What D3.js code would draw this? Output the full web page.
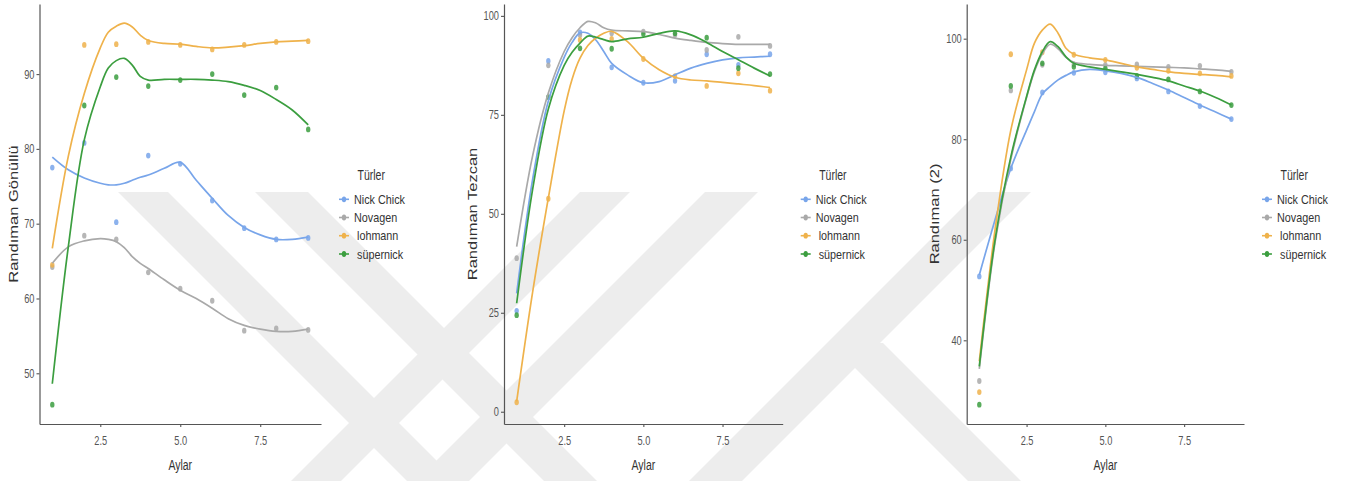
<!DOCTYPE html>
<html>
<head>
<meta charset="utf-8">
<script src="https://cdn.jsdelivr.net/npm/d3@7"></script>
<style>
  body { margin: 0; background: #fff; }
  svg { display: block; font-family: "Liberation Sans", Arial, sans-serif; }
</style>
</head>
<body>
<svg id="chart" width="1354" height="481"></svg>
<script>
// ---- data ----
const months = [1, 2, 3, 4, 5, 6, 7, 8, 9];
const fitMonths = [1, 1.5, 2, 2.5, 2.75, 3, 3.25, 3.5, 3.75, 4, 4.5, 5, 5.5, 6, 6.5, 7, 7.5, 8, 8.5, 9];
const breeds = ["Nick Chick", "Novagen", "lohmann", "süpernick"];
const legendLabels = ["Nick Chick", "Novagen", "\u00a0lohmann", "\u00a0süpernick"];
const xTicks = [2.5, 5.0, 7.5];
const yTicksGonullu = [50, 60, 70, 80, 90];
const yTicksTezcan = [0, 25, 50, 75, 100];
const yTicksRandiman2 = [40, 60, 80, 100];

// Randıman Gönüllü
const gonulluNick = [77.5, 80.8, 70.2, 79.1, 78.0, 73.1, 69.4, 67.9, 68.1];
const gonulluNovagen = [64.2, 68.4, 67.9, 63.5, 61.3, 59.7, 55.7, 56.0, 55.8];
const gonulluLohmann = [64.5, 93.9, 94.0, 94.3, 93.9, 93.3, 93.9, 94.3, 94.4];
const gonulluSupernick = [45.8, 85.8, 89.6, 88.4, 89.2, 90.0, 87.2, 88.2, 82.6];
const gonulluNickFit = [78.9, 77.2, 76.1, 75.4, 75.2, 75.2, 75.4, 75.8, 76.2, 76.5, 77.4, 78.2, 75.8, 73.4, 71.1, 69.5, 68.5, 67.9, 67.9, 68.2];
const gonulluNovagenFit = [64.7, 66.9, 67.7, 68.0, 67.9, 67.6, 66.8, 65.6, 64.7, 64.0, 62.5, 61.1, 60.0, 58.7, 57.3, 56.4, 55.9, 55.6, 55.6, 55.9];
const gonulluLohmannFit = [66.7, 79.0, 87.4, 93.5, 95.6, 96.4, 96.8, 96.3, 95.2, 94.5, 94.1, 94.0, 93.7, 93.5, 93.6, 93.8, 94.1, 94.3, 94.4, 94.5];
const gonulluSupernickFit = [48.6, 66.9, 81.2, 88.3, 90.8, 91.8, 92.1, 91.2, 89.7, 89.2, 89.3, 89.3, 89.3, 89.2, 89.0, 88.5, 87.8, 86.6, 85.2, 83.2];

// Randıman Tezcan
const tezcanNick = [25.5, 88.6, 95.8, 87.0, 83.1, 83.6, 90.3, 87.6, 90.3];
const tezcanNovagen = [38.8, 87.5, 95.2, 95.6, 96.0, 95.2, 91.4, 94.7, 92.4];
const tezcanLohmann = [2.4, 53.8, 93.9, 94.2, 89.1, 84.8, 82.3, 85.5, 81.1];
const tezcanSupernick = [24.4, 79.5, 91.8, 91.7, 95.4, 95.6, 94.5, 86.8, 85.3];
const tezcanNickFit = [29.9, 58.5, 78.5, 89.5, 93.3, 95.7, 95.6, 93.9, 91.0, 88.0, 85.1, 83.1, 83.4, 85.1, 86.8, 88.0, 88.9, 89.4, 89.6, 89.8];
const tezcanNovagenFit = [41.7, 64.5, 80.5, 91.0, 94.5, 97.0, 98.6, 98.2, 97.0, 96.4, 96.2, 96.0, 95.3, 94.4, 93.8, 93.3, 93.0, 92.8, 92.8, 92.8];
const tezcanLohmannFit = [2.6, 30.0, 54.0, 76.0, 84.0, 89.3, 92.5, 94.4, 95.6, 96.1, 93.5, 89.3, 86.4, 84.5, 83.8, 83.6, 83.2, 82.8, 82.4, 81.9];
const tezcanSupernickFit = [27.4, 56.0, 76.5, 87.5, 90.8, 93.1, 94.9, 94.6, 94.0, 93.5, 94.2, 94.6, 95.6, 96.2, 95.2, 93.3, 91.0, 88.9, 86.8, 84.8];

// Randıman (2)
const randiman2Nick = [52.7, 74.2, 89.3, 93.2, 93.3, 92.1, 89.5, 86.6, 84.0];
const randiman2Novagen = [31.9, 89.7, 94.8, 94.9, 94.8, 94.9, 94.4, 94.6, 93.4];
const randiman2Lohmann = [29.7, 96.9, 97.3, 96.8, 95.8, 94.2, 93.6, 93.1, 92.6];
const randiman2Supernick = [27.2, 90.6, 95.1, 94.4, 94.1, 92.6, 91.9, 89.5, 86.8];
const randiman2NickFit = [53.0, 64.0, 74.2, 81.8, 85.5, 89.0, 90.5, 91.8, 92.7, 93.4, 93.9, 93.6, 93.1, 92.3, 91.1, 89.8, 88.3, 86.8, 85.4, 84.0];
const randiman2NovagenFit = [34.3, 59.5, 76.0, 88.3, 93.5, 97.0, 98.9, 98.0, 96.3, 95.3, 94.9, 94.7, 94.6, 94.5, 94.4, 94.3, 94.2, 94.0, 93.8, 93.5];
const randiman2LohmannFit = [35.8, 62.0, 81.8, 93.8, 99.1, 101.7, 102.9, 101.1, 98.1, 96.9, 96.2, 95.8, 95.1, 94.4, 93.9, 93.4, 93.1, 92.9, 92.7, 92.4];
const randiman2SupernickFit = [34.8, 60.0, 76.5, 88.5, 93.8, 97.4, 99.4, 98.4, 96.4, 95.1, 94.4, 93.9, 93.4, 92.9, 92.3, 91.6, 90.6, 89.6, 88.3, 86.8];

// ---- styles / layout ----
const colors = ["#78a5ea", "#a9a9a9", "#efb24b", "#3b9e3f"];
const plotTop = 4, plotBottom = 424;

const panels = [
    { title: "Randıman Gönüllü", left: 39.5, right: 321, titleX: 17.5,
      yDomain: [43.22, 99.37], yTicks: yTicksGonullu,
      points: [gonulluNick, gonulluNovagen, gonulluLohmann, gonulluSupernick],
      fits: [gonulluNickFit, gonulluNovagenFit, gonulluLohmannFit, gonulluSupernickFit] },
    { title: "Randıman Tezcan", left: 504, right: 782.7, titleX: 477,
      yDomain: [-3.1, 103.0], yTicks: yTicksTezcan,
      points: [tezcanNick, tezcanNovagen, tezcanLohmann, tezcanSupernick],
      fits: [tezcanNickFit, tezcanNovagenFit, tezcanLohmannFit, tezcanSupernickFit] },
    { title: "Randıman (2)", left: 966.7, right: 1244, titleX: 939,
      yDomain: [23.35, 106.9], yTicks: yTicksRandiman2,
      points: [randiman2Nick, randiman2Novagen, randiman2Lohmann, randiman2Supernick],
      fits: [randiman2NickFit, randiman2NovagenFit, randiman2LohmannFit, randiman2SupernickFit] }
];

const svg = d3.select("#chart");

// watermark in the background (light diagonal bands)
const bands = [
    [[118, 192], [168, 192], [457, 481], [407, 481]],
    [[255, 192], [308, 192], [597, 481], [544, 481]],
    [[580, 192], [630, 192], [341, 481], [291, 481]],
    [[705, 192], [758, 192], [469, 481], [416, 481]],
    [[978, 192], [1031, 192], [742, 481], [689, 481]],
    [[830, 343], [883, 343], [1021, 481], [968, 481]]
];
svg.append("g").selectAll("polygon")
    .data(bands)
    .join("polygon")
    .attr("points", d => d.map(p => p.join(",")).join(" "))
    .attr("fill", "#ededed");

function squishText(g, x, y, str, size, sx, anchor) {
    return g.append("text")
        .attr("transform", `translate(${x},${y}) scale(${sx},1)`)
        .attr("text-anchor", anchor)
        .style("font-size", size + "px")
        .text(str);
}

function drawPanel(p) {
    const x = d3.scaleLinear().domain([0.6, 9.4]).range([p.left, p.right]);
    const y = d3.scaleLinear().domain(p.yDomain).range([plotBottom, plotTop]);
    const g = svg.append("g");

    // points first, smooth lines on top
    p.points.forEach((vals, i) => {
        g.append("g").selectAll("ellipse")
            .data(vals)
            .join("ellipse")
            .attr("cx", (d, j) => x(months[j]))
            .attr("cy", d => y(d))
            .attr("rx", 2.2)
            .attr("ry", 2.9)
            .attr("fill", colors[i])
            .attr("opacity", 0.85);
    });

    const line = d3.line()
        .x((d, j) => x(fitMonths[j]))
        .y(d => y(d))
        .curve(d3.curveCatmullRom.alpha(0.5));

    p.fits.forEach((vals, i) => {
        g.append("path")
            .attr("d", line(vals))
            .attr("fill", "none")
            .attr("stroke", colors[i])
            .attr("stroke-width", 1.7);
    });

    // axes
    const xAxis = g.append("g")
        .attr("transform", `translate(0,${plotBottom})`)
        .call(d3.axisBottom(x).tickValues(xTicks).tickFormat(d3.format(".1f"))
            .tickSize(3).tickSizeOuter(0).tickPadding(9.5));
    const yAxis = g.append("g")
        .attr("transform", `translate(${p.left},0)`)
        .call(d3.axisLeft(y).tickValues(p.yTicks).tickSize(3).tickSizeOuter(0).tickPadding(2));

    [xAxis, yAxis].forEach(a => {
        a.select(".domain").attr("stroke", "#555").attr("stroke-width", 1.2);
        a.selectAll(".tick line").attr("stroke", "#555").attr("stroke-width", 1.1);
        a.selectAll(".tick text")
            .attr("fill", "#555")
            .style("font-size", "12.5px")
            .style("font-family", "'Liberation Sans', Arial, sans-serif");
    });
    xAxis.selectAll(".tick text").attr("transform", "scale(0.74,1)");
    yAxis.selectAll(".tick text").attr("transform", "scale(0.74,1)").attr("x", -5 / 0.74);

    // axis titles
    squishText(g, (p.left + p.right) / 2, 469.5, "Aylar", 15, 0.7, "middle").attr("fill", "#333");
    g.append("text")
        .attr("transform", `translate(${p.titleX},214) scale(0.72,1) rotate(-90)`)
        .attr("text-anchor", "middle")
        .style("font-size", "16.5px")
        .attr("fill", "#333")
        .text(p.title);

    // legend
    const keyX = p.right + 23;
    const lg = g.append("g");
    squishText(lg, keyX + 13.5, 180, "Türler", 14, 0.75, "start").attr("fill", "#333");
    const rowY = [199.3, 217.5, 235.7, 254];
    breeds.forEach((b, i) => {
        lg.append("line")
            .attr("x1", keyX - 5).attr("x2", keyX + 5)
            .attr("y1", rowY[i]).attr("y2", rowY[i])
            .attr("stroke", colors[i]).attr("stroke-width", 1.6);
        lg.append("ellipse")
            .attr("cx", keyX).attr("cy", rowY[i])
            .attr("rx", 2.2).attr("ry", 2.9)
            .attr("fill", colors[i]);
        squishText(lg, keyX + 10, rowY[i] + 4.6, legendLabels[i], 13, 0.83, "start").attr("fill", "#333");
    });
}

panels.forEach(drawPanel);
</script>
</body>
</html>
